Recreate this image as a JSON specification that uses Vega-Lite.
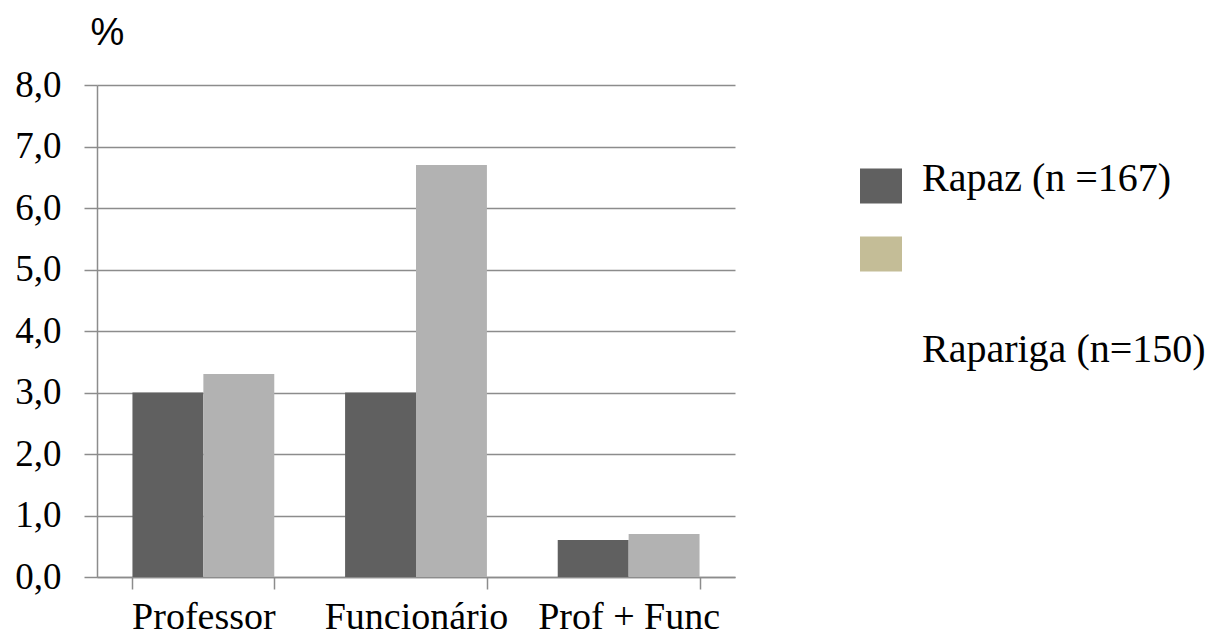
{
  "$schema": "https://vega.github.io/schema/vega-lite/v6.json",
  "width": 638,
  "height": 492,
  "autosize": {"type": "none"},
  "padding": {"left": 97, "top": 85, "right": 472, "bottom": 62},
  "background": "white",
  "data": {
    "values": [
      {"categoria": "Professor", "grupo": "Rapaz (n =167)", "valor": 3.0},
      {"categoria": "Professor", "grupo": "Rapariga (n=150)", "valor": 3.3},
      {"categoria": "Funcionário", "grupo": "Rapaz (n =167)", "valor": 3.0},
      {"categoria": "Funcionário", "grupo": "Rapariga (n=150)", "valor": 6.7},
      {"categoria": "Prof + Func", "grupo": "Rapaz (n =167)", "valor": 0.6},
      {"categoria": "Prof + Func", "grupo": "Rapariga (n=150)", "valor": 0.7}
    ]
  },
  "encoding": {
    "x": {
      "field": "categoria",
      "type": "nominal",
      "sort": ["Professor", "Funcionário", "Prof + Func"],
      "scale": {"paddingInner": 0.333, "paddingOuter": 0.1667},
      "axis": {
        "title": null,
        "labelAngle": 0,
        "tickBand": "extent",
        "tickSize": 12,
        "labelPadding": 9,
        "labelBaseline": "top",
        "labelFont": "Liberation Serif",
        "labelFontSize": 38,
        "labelLimit": 400,
        "labelColor": "#000000",
        "domainColor": "#8c8c8c",
        "tickColor": "#8c8c8c",
        "domainWidth": 1.5,
        "tickWidth": 1.5,
        "grid": false
      }
    },
    "xOffset": {
      "field": "grupo",
      "sort": ["Rapaz (n =167)", "Rapariga (n=150)"],
      "scale": {"paddingInner": 0, "paddingOuter": 0}
    },
    "y": {
      "field": "valor",
      "type": "quantitative",
      "scale": {"domain": [0, 8]},
      "axis": {
        "title": "%",
        "titleAngle": 0,
        "titleX": 10,
        "titleY": -52,
        "titleAlign": "center",
        "titleBaseline": "middle",
        "titleFont": "Liberation Sans",
        "titleFontSize": 38,
        "titleFontWeight": "normal",
        "titleColor": "#000000",
        "values": [0, 1, 2, 3, 4, 5, 6, 7, 8],
        "labelExpr": "replace(format(datum.value, '.1f'), '.', ',')",
        "labelFont": "Liberation Serif",
        "labelFontSize": 37,
        "labelColor": "#000000",
        "labelPadding": 23,
        "tickSize": 13,
        "tickColor": "#8c8c8c",
        "tickWidth": 1.5,
        "domainColor": "#8c8c8c",
        "domainWidth": 1.5,
        "grid": true,
        "gridColor": "#8c8c8c",
        "gridWidth": 1.5
      }
    }
  },
  "layer": [
    {
      "mark": {"type": "bar", "opacity": 0},
      "encoding": {
        "color": {
          "field": "grupo",
          "type": "nominal",
          "scale": {
            "domain": ["Rapaz (n =167)", "Rapariga (n=150)"],
            "range": ["#606060", "#c4bd97"]
          },
          "legend": {
            "orient": "none",
            "legendX": 764,
            "legendY": 81,
            "title": null,
            "padding": 0,
            "symbolType": "M-1.2,-1H1.2V1H-1.2Z",
            "symbolSize": 1225,
            "symbolStrokeWidth": 0,
            "symbolOpacity": 1,
            "labelFont": "Liberation Serif",
            "labelFontSize": 40,
            "labelColor": "#000000",
            "labelOffset": 21,
            "labelLimit": 500,
            "rowPadding": 30,
            "encode": {
              "symbols": {
                "update": {
                  "opacity": {"value": 1},
                  "fillOpacity": {"value": 1}
                }
              },
              "labels": {
                "update": {
                  "dy": {"signal": "datum.value == 'Rapariga (n=150)' ? 96 : -7"}
                }
              }
            }
          }
        }
      }
    },
    {
      "mark": {"type": "bar"},
      "encoding": {
        "fill": {
          "field": "grupo",
          "type": "nominal",
          "scale": {
            "domain": ["Rapaz (n =167)", "Rapariga (n=150)"],
            "range": ["#606060", "#b2b2b2"]
          },
          "legend": null
        }
      }
    }
  ],
  "config": {"view": {"stroke": null}}
}
